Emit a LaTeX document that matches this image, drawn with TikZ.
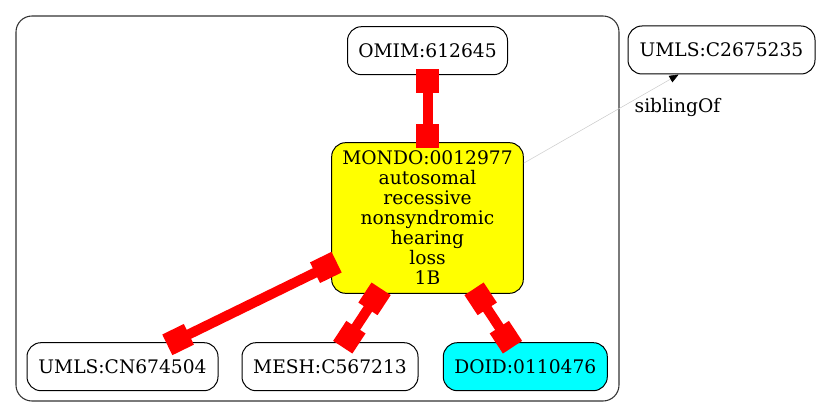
\documentclass[tikz,border=0pt]{standalone}
\usepackage{fontspec}
\setmainfont{DejaVu Serif}
\usetikzlibrary{arrows.meta}
\definecolor{termyellow}{RGB}{255,255,0}
\definecolor{termcyan}{RGB}{0,255,255}
\definecolor{xrefred}{RGB}{255,0,0}

\begin{document}
\begin{tikzpicture}[x=0.75pt,y=-0.75pt,
		every node/.style={font=\fontsize{14}{15}\selectfont},
		term/.style={draw,rounded corners=10.5pt,line width=0.75pt,inner sep=0pt,minimum height=36pt,align=center},
		xref/.style={xrefred,line width=7.5pt,{Square[length=18pt,width=17.25pt]}-{Square[length=18pt,width=17.25pt]},shorten <=-4.5pt,shorten >=-4.5pt},
		sibling/.style={black!20,line width=0.4pt,-{Triangle[length=7pt,width=5.5pt,black]}}]
		\useasboundingbox (0,0) rectangle (821,417);
		\draw[rounded corners=12pt,line width=0.8pt,black!80] (16,16) rectangle (619,401);
		\node[term] (omim) at (427.5,50.7) [minimum width=120pt] {OMIM:612645};
		\node[term] (umls2) at (721.5,50) [minimum width=140.25pt] {UMLS:C2675235};
		\node[term,fill=termyellow,minimum width=143.7pt,minimum height=113pt] (mondo) at (427.5,218) {MONDO:0012977\\autosomal\\recessive\\nonsyndromic\\hearing\\loss\\1B};
		\node[term] (umls1) at (122.5,366.7) [minimum width=143.25pt] {UMLS:CN674504};
		\node[term] (mesh) at (330,366.7) [minimum width=132pt] {MESH:C567213};
		\node[term,fill=termcyan] (doid) at (525.3,366.7) [minimum width=123pt] {DOID:0110476};
		\draw[xref] (omim) -- (mondo);
		\draw[xref] (mondo) -- (umls1);
		\draw[xref] (mondo) -- (mesh);
		\draw[xref] (mondo) -- (doid);
		\draw[sibling] (mondo) -- (umls2);
		\node (sib) at (677.5,107) {siblingOf};
	\end{tikzpicture}
\end{document}
